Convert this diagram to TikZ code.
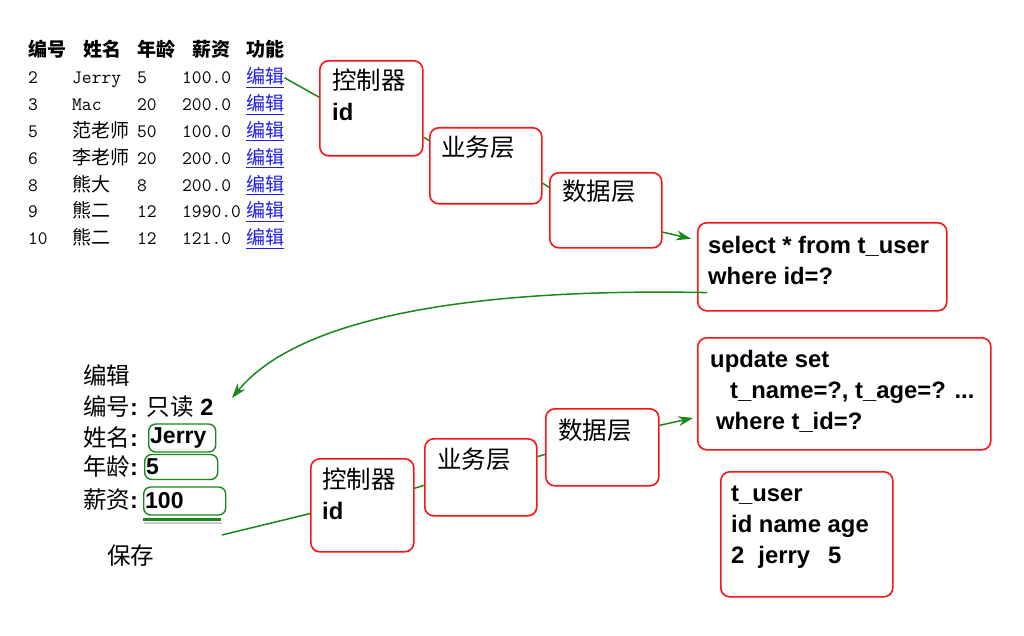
\documentclass[tikz,border=0pt]{standalone}
\usepackage{fontspec}
\setmainfont{Liberation Sans}
\newfontfamily\cjk{Noto Sans CJK SC}
\usetikzlibrary{arrows.meta}

\definecolor{verde}{RGB}{25,135,25}
\definecolor{vermelho}{RGB}{250,20,20}
\definecolor{azul}{RGB}{30,30,235}

\newcommand{\tzh}[1]{{\fontsize{19}{20}\selectfont\cjk #1}}
\newcommand{\zh}[1]{{\fontsize{24.5}{31}\selectfont\cjk\mdseries #1}}
\newcommand{\lat}[1]{{\rmfamily\bfseries #1}}

\begin{document}
\begin{tikzpicture}[x=1pt,y=-1pt,
    camada/.style={draw=vermelho, line width=1.6pt, rounded corners=9pt,
      fill=white, anchor=north west, inner sep=0pt},
    rotulo/.style={anchor=base west, inner sep=0pt, align=left,
      font=\fontsize{23.8}{31}\selectfont\bfseries},
    tabela/.style={anchor=base west, inner sep=0pt, font=\fontsize{19}{20}\selectfont\ttfamily},
    cabecalho/.style={anchor=base west, inner sep=0pt, font=\fontsize{19}{20}\selectfont\cjk\bfseries},
    forma/.style={anchor=base west, inner sep=0pt, font=\fontsize{23.5}{26}\selectfont\cjk},
    campo/.style={draw=verde, line width=1.4pt, rounded corners=7pt, anchor=west,
      inner xsep=1.5pt, inner ysep=0pt, align=left, font=\fontsize{23}{26}\selectfont\bfseries},
    liga/.style={draw=verde, line width=1.5pt},
    seta/.style={liga, -{Stealth[length=15pt,width=10pt]}}
  ]
  \useasboundingbox (0,0) rectangle (1024,636);

  % tabela de usuarios
  \foreach \px/\txt in {28/编号, 83/姓名, 137/年龄, 192/薪资, 246/功能}
    \node[cabecalho] (cab\px) at (\px,57) {\txt};
  \foreach \id/\nome/\idade/\sal [count=\i from 0] in
      {2/Jerry/5/100.0, 3/Mac/20/200.0, 5/\tzh{范老师}/50/100.0,
       6/\tzh{李老师}/20/200.0, 8/\tzh{熊大}/8/200.0,
       9/\tzh{熊二}/12/1990.0, 10/\tzh{熊二}/12/121.0}
  {
    \node[tabela] (id\i) at (28,{84+26.8*\i}) {\id};
    \node[tabela] (nome\i) at (72,{84+26.8*\i}) {\nome};
    \node[tabela] (idade\i) at (137,{84+26.8*\i}) {\idade};
    \node[tabela] (sal\i) at (182,{84+26.8*\i}) {\sal};
    \node[tabela, text=azul] (edit\i) at (246,{84+26.8*\i}) {\underline{\tzh{编辑}}};
  }

  % formulario de edicao
  \node[forma] (fhead) at (83,384) {编辑};
  \node[forma] (fid) at (83,415) {编号\lat{: }只读\lat{ 2}};
  \node[forma] (fnome) at (83,446) {姓名\lat{:}};
  \node[forma] (fidade) at (83,475) {年龄\lat{:}};
  \node[forma] (fsal) at (83,508) {薪资\lat{:}};
  \node[campo, text width=64pt, minimum height=28pt] (fnomev) at (148,438) {Jerry};
  \node[campo, text width=70pt, minimum height=25pt] (fidadev) at (144,467) {5};
  \node[campo, text width=79pt, minimum height=28pt] (fsalv) at (143,501) {100};
  \draw[gray!40, line width=2pt] ([shift={(1,7)}]fsalv.south west) -- ++(78,0);
  \draw[verde, line width=3pt] ([shift={(0,4)}]fsalv.south west) -- ++(78,0);
  \node[forma] (fsalvar) at (107,564) {保存};
  \coordinate (volta) at (232,398);
  \coordinate (salvar) at (222,535);

  % camadas da consulta
  \node[camada, minimum width=103pt, minimum height=95pt] (ctrlA) at (319,60) {};
  \node[rotulo] (ctrlAt) at ([shift={(13,61)}]ctrlA.north west) {\zh{控制器}\\id};
  \node[camada, minimum width=112pt, minimum height=76pt] (negA) at (429,127) {};
  \node[rotulo] (negAt) at ([shift={(12,30)}]negA.north west) {\zh{业务层}};
  \node[camada, minimum width=112pt, minimum height=75pt] (dadosA) at (549,172) {};
  \node[rotulo] (dadosAt) at ([shift={(13,29)}]dadosA.north west) {\zh{数据层}};
  \node[camada, minimum width=249pt, minimum height=88pt] (sqlA) at (697,222) {};
  \node[rotulo] (sqlAt) at ([shift={(11,62)}]sqlA.north west) {select * from t\_user\\where id=?};

  % camadas da atualizacao
  \node[camada, minimum width=103pt, minimum height=93pt] (ctrlB) at (310,458) {};
  \node[rotulo] (ctrlBt) at ([shift={(12,61)}]ctrlB.north west) {\zh{控制器}\\id};
  \node[camada, minimum width=112pt, minimum height=77pt] (negB) at (424,438) {};
  \node[rotulo] (negBt) at ([shift={(13,30)}]negB.north west) {\zh{业务层}};
  \node[camada, minimum width=113pt, minimum height=77pt] (dadosB) at (545,408) {};
  \node[rotulo] (dadosBt) at ([shift={(13,31)}]dadosB.north west) {\zh{数据层}};
  \node[camada, minimum width=293pt, minimum height=112pt] (sqlB) at (697,337) {};
  \node[rotulo] (sqlBt) at ([shift={(13,92)}]sqlB.north west)
    {update set\\\hspace*{20pt}t\_name=?, t\_age=? ...\\\hspace*{6pt}where t\_id=?};
  \node[camada, minimum width=172pt, minimum height=125pt] (tabB) at (720,471) {};
  \node[rotulo] (tabBt) at ([shift={(11,92)}]tabB.north west)
    {t\_user\\id name age\\2\hspace{14pt}jerry\hspace{18pt}5};

  % ligacoes
  \draw[liga] (edit0.east) -- (ctrlA.168);
  \draw[liga] (ctrlA.-29) -- (negA.156);
  \draw[liga] (negA.-17) -- (dadosA.158);
  \draw[seta, shorten >=6pt] (dadosA.-21) -- (sqlA.168);
  \draw[seta] ([shift={(10,-19)}]sqlA.south west) .. controls (480,288) and (300,315) .. (volta);
  \draw[liga] (salvar) -- (ctrlB.-171);
  \draw[liga] (ctrlB.18) -- (negB.-172);
  \draw[liga] (negB.20) -- (dadosB.-173);
  \draw[seta, shorten >=4pt] (dadosB.21) -- (sqlB.-171);
\end{tikzpicture}
\end{document}
